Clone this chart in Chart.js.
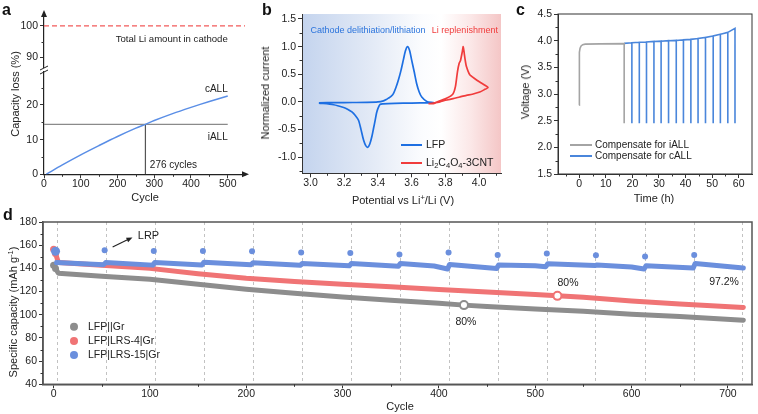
<!DOCTYPE html>
<html><head><meta charset="utf-8">
<script src="https://cdn.jsdelivr.net/npm/chart.js@4.4.1/dist/chart.umd.min.js"></script>
<style>
body{margin:0;background:#fff;width:758px;height:414px;position:relative;overflow:hidden;font-family:"Liberation Sans",Arial,sans-serif;color:#222;}
canvas{position:absolute;}
.lt{position:absolute;font-weight:bold;font-size:16px;color:#111;line-height:16px;}
.t{position:absolute;font-size:11px;white-space:nowrap;transform:translate(-50%,-50%);line-height:12px;}
.r{transform:translate(-50%,-50%) rotate(-90deg);}
sup{font-size:7.5px;vertical-align:4px;line-height:0;}
</style></head><body>
<canvas id="cA1" width="250" height="80" style="left:0px;top:0px"></canvas>
<canvas id="cA2" width="250" height="150" style="left:0px;top:55px"></canvas>
<canvas id="cB" width="260" height="205" style="left:250px;top:0px"></canvas>
<canvas id="cC" width="248" height="205" style="left:510px;top:0px"></canvas>
<canvas id="cD" width="758" height="209" style="left:0px;top:205px"></canvas>

<div class="lt" style="left:2px;top:2px">a</div>
<div class="lt" style="left:262px;top:2px">b</div>
<div class="lt" style="left:516px;top:2px">c</div>
<div class="lt" style="left:3px;top:207px">d</div>

<div class="t r" style="left:15px;top:94px">Capacity loss (%)</div>
<div class="t" style="left:145px;top:197px">Cycle</div>
<div class="t r" style="left:265px;top:93px">Normalized current</div>
<div class="t" style="left:403px;top:200px">Potential vs Li<sup>+</sup>/Li (V)</div>
<div class="t r" style="left:525px;top:92px">Voltage (V)</div>
<div class="t" style="left:654px;top:198px">Time (h)</div>
<div class="t r" style="left:13px;top:312px">Specific capacity (mAh g<sup>-1</sup>)</div>
<div class="t" style="left:400px;top:406px">Cycle</div>

<script>
// ---------------- DATA ----------------
// Panel a
const cycA   = [6, 50, 100, 150, 200, 250, 276, 300, 350, 400, 450, 500];
const callA  = [0, 2.7, 5.6, 8.3, 10.9, 13.3, 14.4, 15.5, 17.5, 19.3, 21.0, 22.6];
const iallA = 14.4, iallCycle = 276, totalLi = 100;
const aTopTicks = [90, 100], aBotTicks = [0, 10, 20], aXTicks = [0, 100, 200, 300, 400, 500];
// Panel b
const lfpV = [3.05,3.15,3.25,3.335,3.40,3.433,3.45,3.463,3.478,3.492,3.507,3.522,3.537,3.551,3.563,3.575,3.588,3.60,3.615,3.63,3.645,3.66,3.69,3.728,
              3.70,3.60,3.50,3.43,3.413,3.40,3.392,3.384,3.374,3.364,3.352,3.34,3.328,3.315,3.30,3.285,3.265,3.246,3.22,3.197,3.138,3.05];
const lfpI = [-0.015,-0.012,-0.01,-0.008,0.0,0.02,0.045,0.07,0.10,0.15,0.26,0.40,0.57,0.76,0.92,1.0,0.93,0.76,0.55,0.33,0.18,0.09,0.01,-0.01,
              -0.015,-0.02,-0.025,-0.035,-0.045,-0.12,-0.20,-0.33,-0.48,-0.63,-0.76,-0.82,-0.79,-0.69,-0.50,-0.33,-0.24,-0.18,-0.13,-0.10,-0.05,-0.02];
const lcoV = [3.70,3.728,3.768,3.81,3.846,3.86,3.872,3.882,3.89,3.90,3.906,3.912,3.918,3.925,3.945,3.975,4.004,4.03,4.053,
              4.03,4.004,3.96,3.925,3.885,3.846,3.80,3.768,3.728,3.70];
const lcoI = [-0.03,-0.03,0.02,0.07,0.15,0.28,0.55,0.70,0.75,0.90,1.0,0.88,0.75,0.64,0.49,0.42,0.36,0.31,0.26,
              0.22,0.18,0.14,0.12,0.09,0.06,0.03,0.0,-0.02,-0.03];
const bXTicks = [3.0,3.2,3.4,3.6,3.8,4.0], bYTicks = [-1.0,-0.5,0.0,0.5,1.0,1.5];
// Panel c
const tGray = [0, 0, 0.1, 0.3, 0.7, 1.3, 2.2, 8, 16.9, 16.9];
const vGray = [2.79, 3.5, 3.78, 3.86, 3.9, 3.925, 3.935, 3.94, 3.945, 2.45];
const tCharge = [16.9,19.8,22.6,25.3,28.1,30.8,33.6,36.5,39.2,42.0,44.7,47.5,50.4,53.1,55.9,58.6];
const vCharge = [3.95,3.96,3.97,3.975,3.985,3.99,4.0,4.005,4.015,4.025,4.04,4.06,4.09,4.12,4.155,4.23];
const vCut = 2.45;
const cXTicks = [0,10,20,30,40,50,60], cYTicks = [1.5,2.0,2.5,3.0,3.5,4.0,4.5];
// Panel d
const grayCyc = [0, 2, 5, 50, 100, 150, 200, 250, 300, 350, 400, 426, 450, 500, 550, 600, 650, 716];
const grayCap = [142.7, 139.9, 135.8, 133.3, 130.6, 126.3, 122.0, 118.5, 115.3, 112.5, 109.9, 108.3, 107.2, 105.0, 103.0, 100.5, 98.4, 95.3];
const redCyc  = [0, 2, 5, 50, 100, 150, 200, 250, 300, 350, 400, 450, 500, 523, 550, 600, 650, 716];
const redCap  = [156.5, 152.8, 145.0, 142.6, 140.0, 135.3, 131.5, 128.7, 126.2, 124.2, 121.8, 119.6, 117.4, 116.3, 115.0, 111.9, 109.2, 106.3];
const blueCyc = [3, 52, 54, 103, 105, 154, 156, 205, 207, 256, 258, 307, 309, 358, 360, 395, 409, 411, 460, 462, 500, 511, 513, 562, 564, 600, 613, 615, 664, 666, 716];
const blueCap = [145, 143.2, 145, 142.8, 145, 143, 145.2, 143.2, 144.8, 142.6, 144.2, 142.2, 144.2, 141.8, 144.2, 142.0, 139.5, 143.3, 139.9, 143, 142.2, 141.5, 144, 142.4, 142.9, 141.2, 139.4, 142.2, 140.4, 144.2, 140.4];
const lrpCyc = [2, 53, 104, 155, 206, 257, 308, 359, 410, 461, 512, 563, 614, 665];
const lrpCap = [154.8, 155.6, 155, 155, 154.8, 153.6, 153.3, 152, 153.7, 151.6, 152.8, 151.3, 150.2, 151.6];
const dashCyc = [3.5, 54, 105, 156, 206.5, 257.5, 308.5, 359.5, 410, 461, 512, 562.5, 613.5, 664.5, 715];
const grayMark = {x: 426, y: 108.3}, redMark = {x: 523, y: 116.3};
const dXTicks = [0,100,200,300,400,500,600,700], dYTicks = [40,60,80,100,120,140,160,180];

// ---------------- HELPERS ----------------
const FF = '"Liberation Sans", Arial, sans-serif';
Chart.defaults.font.family = FF;
Chart.defaults.color = '#222';
const pts = (xs, ys) => xs.map((x, i) => ({x, y: ys[i]}));
function lin(min, max, ticks, size, o) {
  const isY = o.axis === 'y';
  return Object.assign({
    type: 'linear', min, max,
    afterBuildTicks: s => { s.ticks = ticks.map(v => ({value: v})); },
    afterFit: s => { if (isY) s.width = size; else s.height = size; },
    grid: {drawOnChartArea: false, drawTicks: true, tickLength: 4, color: '#333', tickWidth: 1},
    border: {display: true, color: '#333', width: 1},
    ticks: {color: '#222', font: {size: 10.5}, padding: isY ? 2 : 0, maxRotation: 0, autoSkip: false,
            callback: o.fmt || (v => String(v))}
  }, o.extra || {});
}
function txt(ctx, s, x, y, o = {}) {
  ctx.save();
  ctx.font = (o.bold ? 'bold ' : '') + (o.size || 10.5) + 'px ' + FF;
  ctx.fillStyle = o.color || '#222';
  ctx.textAlign = o.align || 'left';
  ctx.textBaseline = 'middle';
  ctx.fillText(s, x, y);
  ctx.restore();
}
function rich(ctx, segs, x, y, size, color) {
  let cx = x;
  ctx.save();
  segs.forEach(([t, sub]) => {
    const fs = sub ? size * 0.72 : size;
    ctx.font = fs + 'px ' + FF;
    ctx.fillStyle = color; ctx.textBaseline = 'middle'; ctx.textAlign = 'left';
    ctx.fillText(t, cx, y + (sub ? size * 0.32 : 0));
    cx += ctx.measureText(t).width;
  });
  ctx.restore();
}
function minor(chart, id, vals, len) {
  const s = chart.scales[id], a = chart.chartArea, ctx = chart.ctx;
  ctx.save(); ctx.strokeStyle = '#333'; ctx.lineWidth = 1; ctx.beginPath();
  vals.forEach(v => {
    const p = Math.round(s.getPixelForValue(v)) + 0.5;
    if (id[0] === 'x') { ctx.moveTo(p, a.bottom); ctx.lineTo(p, a.bottom + len); }
    else { ctx.moveTo(a.left, p); ctx.lineTo(a.left - len, p); }
  });
  ctx.stroke(); ctx.restore();
}
function head(ctx, x1, y1, x2, y2, L, W, color) {
  const ang = Math.atan2(y2 - y1, x2 - x1);
  ctx.save(); ctx.fillStyle = color; ctx.translate(x2, y2); ctx.rotate(ang);
  ctx.beginPath(); ctx.moveTo(0, 0); ctx.lineTo(-L, -W / 2); ctx.lineTo(-L, W / 2); ctx.closePath(); ctx.fill();
  ctx.restore();
}
function box(chart, color, w) {
  const a = chart.chartArea, ctx = chart.ctx;
  ctx.save(); ctx.strokeStyle = color; ctx.lineWidth = w;
  ctx.strokeRect(a.left, a.top, a.right - a.left, a.bottom - a.top); ctx.restore();
}
const base = (padding) => ({
  responsive: false, animation: false, devicePixelRatio: 1,
  layout: {padding},
  plugins: {legend: {display: false}, tooltip: {enabled: false}},
  elements: {point: {radius: 0}}
});
const lineDs = (data, color, w, extra) => Object.assign({data, showLine: true, borderColor: color, backgroundColor: color,
  borderWidth: w, pointRadius: 0, fill: false}, extra || {});

// ---------------- PANEL A (upper, broken axis) ----------------
const aXMax = 547;
new Chart(document.getElementById('cA1'), {
  type: 'scatter',
  data: {datasets: [lineDs(pts([0, aXMax], [totalLi, totalLi]), '#f25a5a', 1.3, {borderDash: [5, 3]})]},
  options: Object.assign(base({left: 0, top: 14, right: 5, bottom: 13}), {
    scales: {
      x: {type: 'linear', min: 0, max: aXMax, display: false},
      y: lin(86.9, 103.8, aTopTicks, 44, {axis: 'y', extra: {border: {display: true, color: '#222', width: 1.2}}})
    }
  }),
  plugins: [{id: 'aTop', afterDraw(c) {
    const ctx = c.ctx, x = c.scales.x, y = c.scales.y, a = c.chartArea;
    txt(ctx, 'Total Li amount in cathode', x.getPixelForValue(500), y.getPixelForValue(95.8), {align: 'right', size: 9.6});
    minor(c, 'y', [95], 2.5);
    head(ctx, a.left, a.top + 5, a.left, a.top - 4, 7, 6, '#222');
    ctx.save(); ctx.fillStyle = '#fff'; ctx.fillRect(a.left - 4, a.bottom + 1, 8, 4);
    ctx.strokeStyle = '#222'; ctx.lineWidth = 1; ctx.beginPath();
    ctx.moveTo(a.left - 4, a.bottom + 3); ctx.lineTo(a.left + 4, a.bottom - 1);
    ctx.moveTo(a.left - 4, a.bottom + 7); ctx.lineTo(a.left + 4, a.bottom + 3);
    ctx.stroke(); ctx.restore();
  }}]
});

// ---------------- PANEL A (lower) ----------------
new Chart(document.getElementById('cA2'), {
  type: 'scatter',
  data: {datasets: [
    lineDs(pts(cycA, callA), '#5a8ee6', 1.5, {tension: 0.35}),
    lineDs(pts([0, 500], [iallA, iallA]), '#8a8a8a', 1.2),
    lineDs(pts([iallCycle, iallCycle], [0, iallA]), '#555', 1.2)
  ]},
  options: Object.assign(base({left: 0, top: 17, right: 5, bottom: 0}), {
    scales: {
      x: lin(0, aXMax, aXTicks, 30.7, {axis: 'x', extra: {border: {display: true, color: '#222', width: 1.2}}}),
      y: lin(0, 29.5, aBotTicks, 44, {axis: 'y', extra: {border: {display: true, color: '#222', width: 1.2}}})
    }
  }),
  plugins: [{id: 'aBot', afterDraw(c) {
    const ctx = c.ctx, x = c.scales.x, y = c.scales.y, a = c.chartArea;
    txt(ctx, 'cALL', x.getPixelForValue(500), y.getPixelForValue(24.6), {align: 'right', size: 10});
    txt(ctx, 'iALL', x.getPixelForValue(500), y.getPixelForValue(10.7), {align: 'right', size: 10});
    txt(ctx, '276 cycles', x.getPixelForValue(288), y.getPixelForValue(2.7), {size: 10});
    minor(c, 'x', [50, 150, 250, 350, 450], 2.5);
    minor(c, 'y', [5, 15, 25], 2.5);
    head(ctx, a.right - 4, a.bottom, a.right + 4, a.bottom, 7, 6, '#222');
  }}]
});

// ---------------- PANEL B ----------------
new Chart(document.getElementById('cB'), {
  type: 'scatter',
  data: {datasets: [
    lineDs(pts(lcoV, lcoI), '#f03c3c', 1.7, {tension: 0.2}),
    lineDs(pts(lfpV, lfpI), '#1d6fe2', 1.7, {tension: 0.25})
  ]},
  options: Object.assign(base({left: 0, top: 14, right: 9, bottom: 0}), {
    scales: {
      x: lin(2.95, 4.13, bXTicks, 31.7, {axis: 'x', fmt: v => v.toFixed(1)}),
      y: lin(-1.29, 1.59, bYTicks, 52, {axis: 'y', fmt: v => v.toFixed(1)})
    }
  }),
  plugins: [{id: 'bBg', beforeDraw(c) {
    const a = c.chartArea, ctx = c.ctx;
    const g = ctx.createLinearGradient(a.left, 0, a.right, 0);
    g.addColorStop(0, '#c4d4ee'); g.addColorStop(0.35, '#e3eaf6'); g.addColorStop(0.6, '#fbfcfe');
    g.addColorStop(0.7, '#ffffff'); g.addColorStop(0.85, '#fbe7e7'); g.addColorStop(1, '#f4c6c6');
    ctx.save(); ctx.fillStyle = g; ctx.fillRect(a.left, a.top, a.right - a.left, a.bottom - a.top); ctx.restore();
  }, afterDraw(c) {
    const ctx = c.ctx, x = c.scales.x, y = c.scales.y;
    txt(ctx, 'Cathode delithiation/lithiation', x.getPixelForValue(3.0), y.getPixelForValue(1.30), {size: 9, color: '#2b74dc'});
    txt(ctx, 'Li replenishment', x.getPixelForValue(3.72), y.getPixelForValue(1.30), {size: 9, color: '#f03c3c'});
    minor(c, 'x', [3.1, 3.3, 3.5, 3.7, 3.9, 4.1], 2.5);
    minor(c, 'y', [-1.25, -0.75, -0.25, 0.25, 0.75, 1.25], 2.5);
    ctx.save(); ctx.lineWidth = 2;
    ctx.strokeStyle = '#1d6fe2'; ctx.beginPath(); ctx.moveTo(151, 145); ctx.lineTo(172, 145); ctx.stroke();
    ctx.strokeStyle = '#f03c3c'; ctx.beginPath(); ctx.moveTo(151, 163); ctx.lineTo(172, 163); ctx.stroke();
    ctx.restore();
    txt(ctx, 'LFP', 176, 145, {size: 10.5});
    rich(ctx, [['Li', 0], ['2', 1], ['C', 0], ['4', 1], ['O', 0], ['4', 1], ['-3CNT', 0]], 176, 163, 10.5, '#222');
  }}]
});

// ---------------- PANEL C ----------------
const blueC = [];
tCharge.forEach((t, i) => {
  blueC.push({x: t, y: vCharge[i]});
  if (i > 0) { blueC.push({x: t, y: vCut}); blueC.push({x: t, y: vCharge[i]}); }
});
new Chart(document.getElementById('cC'), {
  type: 'scatter',
  data: {datasets: [
    lineDs(pts(tGray, vGray), '#a4a4a4', 1.6),
    lineDs(blueC, '#4a86db', 1.6)
  ]},
  options: Object.assign(base({left: 0, top: 14, right: 6, bottom: 0}), {
    scales: {
      x: lin(-8, 65, cXTicks, 31, {axis: 'x'}),
      y: lin(1.5, 4.5, cYTicks, 48, {axis: 'y', fmt: v => v.toFixed(1)})
    }
  }),
  plugins: [{id: 'cDeco', afterDraw(c) {
    const ctx = c.ctx;
    box(c, '#333', 1);
    minor(c, 'x', [-5, 5, 15, 25, 35, 45, 55], 2.5);
    minor(c, 'y', [1.75, 2.25, 2.75, 3.25, 3.75, 4.25], 2.5);
    ctx.save(); ctx.lineWidth = 2;
    ctx.strokeStyle = '#a4a4a4'; ctx.beginPath(); ctx.moveTo(60, 145); ctx.lineTo(82, 145); ctx.stroke();
    ctx.strokeStyle = '#4a86db'; ctx.beginPath(); ctx.moveTo(60, 156); ctx.lineTo(82, 156); ctx.stroke();
    ctx.restore();
    txt(ctx, 'Compensate for iALL', 85, 145, {size: 10});
    txt(ctx, 'Compensate for cALL', 85, 156, {size: 10});
  }}]
});

// ---------------- PANEL D ----------------
const cG = '#8d8d8d', cR = '#f07475', cBl = '#6b8fdd';
new Chart(document.getElementById('cD'), {
  type: 'scatter',
  data: {datasets: [
    {data: [grayMark], pointRadius: 4, pointBorderWidth: 2, pointBackgroundColor: '#fff', pointBorderColor: cG},
    {data: [redMark], pointRadius: 4, pointBorderWidth: 2, pointBackgroundColor: '#fff', pointBorderColor: cR},
    {data: pts(lrpCyc, lrpCap), pointRadius: ctx => ctx.dataIndex === 0 ? 4.5 : 3, pointBorderWidth: 0,
     pointBackgroundColor: cBl, pointBorderColor: cBl},
    lineDs(pts(blueCyc, blueCap), cBl, 5, {borderCapStyle: 'round', borderJoinStyle: 'round'}),
    lineDs(pts(redCyc, redCap), cR, 5, {borderCapStyle: 'round', borderJoinStyle: 'round',
      pointRadius: ctx => ctx.dataIndex < 2 ? 3.5 : 0, pointBorderWidth: 0, pointBackgroundColor: cR}),
    lineDs(pts(grayCyc, grayCap), cG, 5, {borderCapStyle: 'round', borderJoinStyle: 'round',
      pointRadius: ctx => ctx.dataIndex < 2 ? 3.5 : 0, pointBorderWidth: 0, pointBackgroundColor: cG})
  ]},
  options: Object.assign(base({left: 0, top: 17, right: 2, bottom: 0}), {
    scales: {
      x: lin(-11, 725, dXTicks, 29.7, {axis: 'x', extra: {border: {display: true, color: '#555', width: 1.5}}}),
      y: lin(40, 180, dYTicks, 43, {axis: 'y', extra: {border: {display: true, color: '#555', width: 1.5}}})
    }
  }),
  plugins: [{id: 'dDeco', beforeDatasetsDraw(c) {
    const ctx = c.ctx, x = c.scales.x, a = c.chartArea;
    ctx.save(); ctx.strokeStyle = '#c2c2c2'; ctx.lineWidth = 1; ctx.setLineDash([3, 3]); ctx.beginPath();
    dashCyc.forEach(v => { const p = Math.round(x.getPixelForValue(v)) + 0.5; ctx.moveTo(p, a.top); ctx.lineTo(p, a.bottom); });
    ctx.stroke(); ctx.restore();
  }, afterDraw(c) {
    const ctx = c.ctx, x = c.scales.x, y = c.scales.y;
    box(c, '#555', 1.5);
    minor(c, 'x', [50, 150, 250, 350, 450, 550, 650], 2.5);
    minor(c, 'y', [50, 70, 90, 110, 130, 150, 170], 2.5);
    const x1 = x.getPixelForValue(61.3), y1 = y.getPixelForValue(158.5), x2 = x.getPixelForValue(81.9), y2 = y.getPixelForValue(166.6);
    ctx.save(); ctx.strokeStyle = '#222'; ctx.lineWidth = 1.2; ctx.beginPath(); ctx.moveTo(x1, y1); ctx.lineTo(x2 - 3, y2 + 1.2); ctx.stroke(); ctx.restore();
    head(ctx, x1, y1, x2, y2, 6, 5, '#222');
    txt(ctx, 'LRP', x.getPixelForValue(87.4), y.getPixelForValue(167.7), {size: 11});
    txt(ctx, '80%', x.getPixelForValue(428), y.getPixelForValue(93.6), {size: 10.5, align: 'center'});
    txt(ctx, '80%', x.getPixelForValue(534), y.getPixelForValue(127.2), {size: 10.5, align: 'center'});
    txt(ctx, '97.2%', x.getPixelForValue(696), y.getPixelForValue(128), {size: 10.5, align: 'center'});
    const rows = [['LFP||Gr', cG], ['LFP|LRS-4|Gr', cR], ['LFP|LRS-15|Gr', cBl]];
    rows.forEach(([t, col], i) => {
      const yy = 121.7 + i * 14.2;
      ctx.save(); ctx.fillStyle = col; ctx.beginPath(); ctx.arc(74, yy, 4, 0, Math.PI * 2); ctx.fill(); ctx.restore();
      txt(ctx, t, 88, yy, {size: 10.5});
    });
  }}]
});
</script>
</body></html>
